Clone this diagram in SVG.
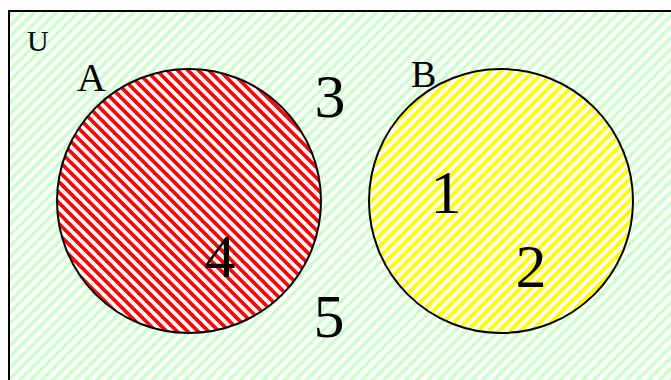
<svg xmlns="http://www.w3.org/2000/svg" width="671" height="380" viewBox="0 0 671 380">
  <defs>
    <pattern id="pg" patternUnits="userSpaceOnUse" width="7.8" height="10" patternTransform="rotate(45)">
      <rect x="0" y="0" width="7.8" height="10" fill="#ffffff"/>
      <rect x="0" y="0" width="3.6" height="10" fill="#ccffcc"/>
    </pattern>
    <pattern id="py" patternUnits="userSpaceOnUse" width="7.6" height="10" patternTransform="rotate(45)">
      <rect x="0" y="0" width="7.6" height="10" fill="#ffffff"/>
      <rect x="0" y="0" width="3.8" height="10" fill="#ffff00"/>
    </pattern>
    <pattern id="pr" patternUnits="userSpaceOnUse" width="7.4" height="10" patternTransform="rotate(-45)">
      <rect x="0" y="0" width="7.4" height="10" fill="#ffffff"/>
      <rect x="0" y="0" width="3.7" height="10" fill="#ff0000"/>
    </pattern>
  </defs>
  <style>
    .t { font-family: "Liberation Serif", "Times New Roman", serif; fill: #000; }
    .set { stroke: #000; stroke-width: 2; }
  </style>
  <g id="universe">
    <rect x="9" y="11" width="680" height="390" fill="url(#pg)" stroke="#000" stroke-width="2"/>
    <text class="t" x="27" y="51" font-size="30">U</text>
  </g>
  <g id="setA">
    <circle class="set" cx="189" cy="201" r="132" fill="url(#pr)"/>
    <text class="t" x="77" y="91" font-size="40">A</text>
  </g>
  <g id="setB">
    <circle class="set" cx="501" cy="201" r="132" fill="url(#py)"/>
    <text class="t" x="411" y="87" font-size="38">B</text>
  </g>
  <g id="elements">
    <text class="t" x="330" y="117" font-size="62" text-anchor="middle">3</text>
    <text class="t" x="446" y="213" font-size="62" text-anchor="middle">1</text>
    <text class="t" x="531" y="287" font-size="62" text-anchor="middle">2</text>
    <text class="t" x="220" y="277" font-size="62" text-anchor="middle">4</text>
    <text class="t" x="329" y="337" font-size="62" text-anchor="middle">5</text>
  </g>
  <g id="connectors"></g>
</svg>
